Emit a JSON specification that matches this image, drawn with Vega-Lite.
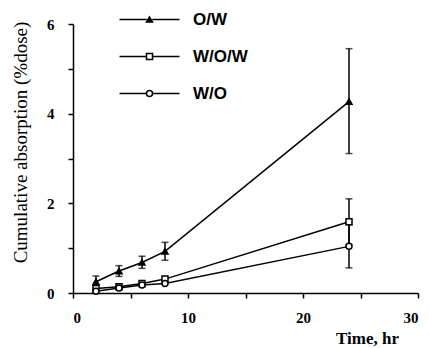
{
  "$schema": "https://vega.github.io/schema/vega-lite/v6.json",
  "width": 345,
  "height": 269,
  "autosize": {"type": "none"},
  "padding": {"left": 73, "top": 24, "right": 11, "bottom": 55},
  "background": "white",
  "config": {
    "view": {"stroke": null},
    "axis": {
      "domainColor": "black",
      "domainWidth": 1.5,
      "tickColor": "black",
      "tickWidth": 1.5,
      "tickSize": 5,
      "grid": false,
      "labelFont": "Liberation Serif",
      "labelFontWeight": "bold",
      "labelFontSize": 15,
      "labelColor": "black",
      "titleColor": "black"
    }
  },
  "datasets": {
    "pts": [
      {"series": "O/W", "t": 2, "y": 0.25},
      {"series": "O/W", "t": 4, "y": 0.49},
      {"series": "O/W", "t": 6, "y": 0.68},
      {"series": "O/W", "t": 8, "y": 0.93},
      {"series": "O/W", "t": 24, "y": 4.27},
      {"series": "W/O/W", "t": 2, "y": 0.1},
      {"series": "W/O/W", "t": 4, "y": 0.14},
      {"series": "W/O/W", "t": 6, "y": 0.21},
      {"series": "W/O/W", "t": 8, "y": 0.31},
      {"series": "W/O/W", "t": 24, "y": 1.59},
      {"series": "W/O", "t": 2, "y": 0.04},
      {"series": "W/O", "t": 4, "y": 0.11},
      {"series": "W/O", "t": 6, "y": 0.18},
      {"series": "W/O", "t": 8, "y": 0.21},
      {"series": "W/O", "t": 24, "y": 1.04}
    ],
    "errs": [
      {"series": "O/W", "t": 2, "lo": 0.12, "hi": 0.38},
      {"series": "O/W", "t": 4, "lo": 0.37, "hi": 0.61},
      {"series": "O/W", "t": 6, "lo": 0.55, "hi": 0.82},
      {"series": "O/W", "t": 8, "lo": 0.73, "hi": 1.13},
      {"series": "O/W", "t": 24, "lo": 3.11, "hi": 5.45},
      {"series": "W/O/W", "t": 24, "lo": 1.08, "hi": 2.1},
      {"series": "W/O", "t": 24, "lo": 0.56, "hi": 1.52}
    ]
  },
  "layer": [
    {
      "data": {"name": "pts"},
      "mark": {"type": "line", "color": "black", "strokeWidth": 1.5},
      "encoding": {
        "x": {
          "field": "t", "type": "quantitative",
          "scale": {"domain": [0, 30], "nice": false},
          "axis": {
            "values": [0, 5, 10, 15, 20, 25, 30],
            "labelExpr": "datum.value % 10 ? '' : datum.label",
            "labelPadding": 12,
            "title": "Time, hr",
            "titleFont": "Liberation Serif",
            "titleFontWeight": "bold",
            "titleFontSize": 17,
            "titleAnchor": "start",
            "titleAlign": "center",
            "titleBaseline": "alphabetic",
            "titleX": 294,
            "titleY": 50
          }
        },
        "y": {
          "field": "y", "type": "quantitative",
          "scale": {"domain": [0, 6], "nice": false},
          "axis": {
            "values": [0, 1, 2, 3, 4, 5, 6],
            "labelExpr": "datum.value % 2 ? '' : datum.label",
            "labelPadding": 14,
            "title": "Cumulative absorption (%dose)",
            "titleFont": "Liberation Serif",
            "titleFontWeight": "normal",
            "titleFontSize": 19,
            "titleAngle": -90,
            "titleAlign": "center",
            "titleBaseline": "middle",
            "titleX": -53,
            "titleY": 118
          }
        },
        "detail": {"field": "series"},
        "opacity": {
          "field": "series", "type": "nominal",
          "sort": ["O/W", "W/O/W", "W/O"],
          "scale": {"range": [1, 1, 1]},
          "legend": {
            "title": null,
            "orient": "none",
            "legendX": 68,
            "legendY": -13,
            "padding": 0,
            "symbolType": "M-10,0H-0.9M0.9,0H10",
            "symbolSize": 36,
            "symbolStrokeWidth": 1.5,
            "symbolStrokeColor": "black",
            "symbolFillColor": "transparent",
            "labelOffset": 35,
            "labelFont": "Liberation Sans",
            "labelFontWeight": "bold",
            "labelFontSize": 17,
            "labelColor": "black",
            "rowPadding": 19
          }
        }
      }
    },
    {
      "data": {"name": "errs"},
      "mark": {"type": "rule", "color": "black", "strokeWidth": 1.5},
      "encoding": {
        "x": {"field": "t", "type": "quantitative"},
        "y": {"field": "lo", "type": "quantitative"},
        "y2": {"field": "hi"}
      }
    },
    {
      "data": {"name": "errs"},
      "mark": {"type": "tick", "orient": "horizontal", "color": "black", "size": 7, "thickness": 1.5},
      "encoding": {
        "x": {"field": "t", "type": "quantitative"},
        "y": {"field": "lo", "type": "quantitative"}
      }
    },
    {
      "data": {"name": "errs"},
      "mark": {"type": "tick", "orient": "horizontal", "color": "black", "size": 7, "thickness": 1.5},
      "encoding": {
        "x": {"field": "t", "type": "quantitative"},
        "y": {"field": "hi", "type": "quantitative"}
      }
    },
    {
      "data": {"name": "pts"},
      "mark": {"type": "point", "strokeWidth": 1.5, "size": 36, "opacity": 1},
      "encoding": {
        "x": {"field": "t", "type": "quantitative"},
        "y": {"field": "y", "type": "quantitative"},
        "stroke": {
          "field": "series", "type": "nominal",
          "scale": {"domain": ["O/W", "W/O/W", "W/O"], "range": ["black", "black", "black"]},
          "legend": {
            "title": null,
            "orient": "none",
            "legendX": 68,
            "legendY": -13,
            "padding": 0,
            "symbolSize": 36,
            "symbolStrokeWidth": 1.5,
            "labelOffset": 35,
            "labelFont": "Liberation Sans",
            "labelFontWeight": "bold",
            "labelFontSize": 17,
            "labelOpacity": 0,
            "rowPadding": 19
          }
        },
        "fill": {
          "field": "series", "type": "nominal",
          "scale": {"domain": ["O/W", "W/O/W", "W/O"], "range": ["black", "white", "white"]},
          "legend": {
            "title": null,
            "orient": "none",
            "legendX": 68,
            "legendY": -13,
            "padding": 0,
            "symbolSize": 36,
            "symbolStrokeWidth": 1.5,
            "labelOffset": 35,
            "labelFont": "Liberation Sans",
            "labelFontWeight": "bold",
            "labelFontSize": 17,
            "labelOpacity": 0,
            "rowPadding": 19
          }
        },
        "shape": {
          "field": "series", "type": "nominal",
          "scale": {"domain": ["O/W", "W/O/W", "W/O"], "range": ["triangle-up", "square", "circle"]},
          "legend": {
            "title": null,
            "orient": "none",
            "legendX": 68,
            "legendY": -13,
            "padding": 0,
            "symbolSize": 36,
            "symbolStrokeWidth": 1.5,
            "labelOffset": 35,
            "labelFont": "Liberation Sans",
            "labelFontWeight": "bold",
            "labelFontSize": 17,
            "labelOpacity": 0,
            "rowPadding": 19
          }
        }
      }
    }
  ]
}
